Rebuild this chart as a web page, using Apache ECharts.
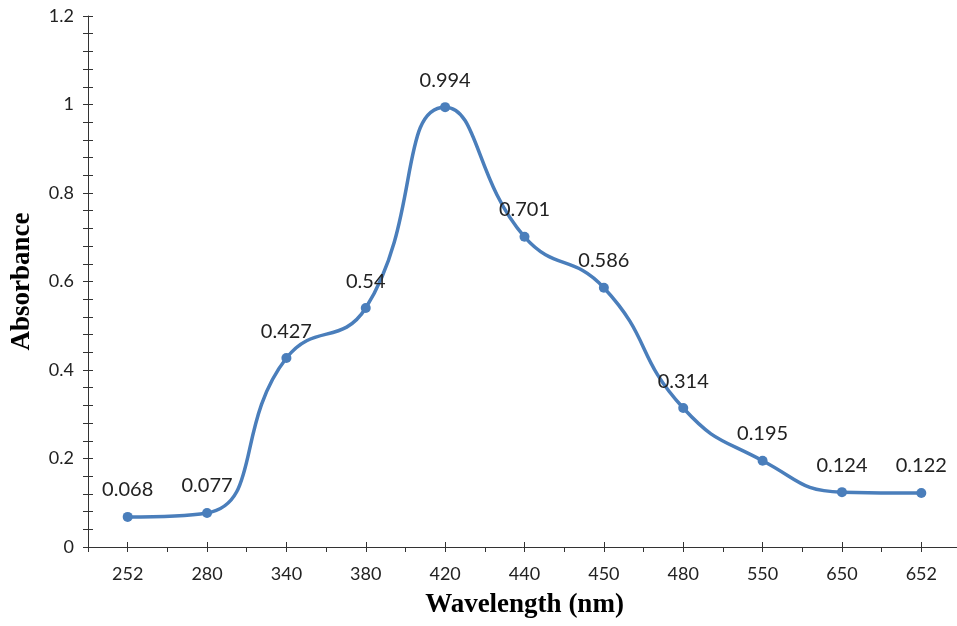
<!DOCTYPE html>
<html lang="en">
  <head>
    <meta charset="UTF-8" />
    <title>Absorbance</title>
    <script src="https://cdn.jsdelivr.net/npm/echarts@6/dist/echarts.min.js"></script>
    <style>
      html,
      body {
        margin: 0;
        padding: 0;
        background: #fff;
      }
      #chart {
        width: 957px;
        height: 626px;
      }
    </style>
  </head>
  <body>
    <div id="chart"></div>

    <script>
      // wavelength categories (nm) and absorbance readings
      var wavelengths = ["252", "280", "340", "380", "420", "440", "450", "480", "550", "650", "652"];
      var absorbance = [0.068, 0.077, 0.427, 0.54, 0.994, 0.701, 0.586, 0.314, 0.195, 0.124, 0.122];

      var textFont = "Lato, 'Liberation Sans', sans-serif";
      var titleFont = "'Liberation Serif', 'Times New Roman', serif";
      var axisColor = "#333";
      var lineColor = "#4a7ebb";

      var chart = echarts.init(document.getElementById("chart"));

      var option = {
        backgroundColor: "#fff",
        animation: false,
        grid: { left: 88, right: -4, top: 16, bottom: 79, containLabel: false, outerBoundsMode: "none" },
        xAxis: [
          {
            type: "category",
            data: wavelengths,
            boundaryGap: true,
            name: "Wavelength (nm)",
            nameLocation: "middle",
            nameGap: 45,
            nameTextStyle: { fontFamily: titleFont, fontWeight: "bold", fontSize: 27, color: "#000" },
            axisLine: { lineStyle: { color: axisColor, width: 1 } },
            axisTick: { show: true, length: 5, lineStyle: { color: axisColor } },
            axisLabel: { margin: 18, fontFamily: textFont, fontSize: 18, color: "#222" },
            splitLine: { show: false },
          },
          {
            // tick marks only: the ones at each category cross the axis line
            type: "category",
            data: wavelengths,
            boundaryGap: true,
            position: "bottom",
            offset: -5,
            axisLine: { show: false },
            axisLabel: { show: false },
            axisTick: { show: true, alignWithLabel: true, length: 10, lineStyle: { color: axisColor } },
            splitLine: { show: false },
          },
        ],
        yAxis: [
          {
            type: "value",
            min: 0,
            max: 1.2,
            interval: 0.2,
            name: "Absorbance",
            nameLocation: "middle",
            nameGap: 52,
            nameTextStyle: { fontFamily: titleFont, fontWeight: "bold", fontSize: 27, color: "#000" },
            axisLine: { show: true, lineStyle: { color: axisColor, width: 1 } },
            axisTick: { show: true, length: 5, lineStyle: { color: axisColor } },
            minorTick: { show: true, splitNumber: 5, length: 5, lineStyle: { color: axisColor } },
            axisLabel: { margin: 14, fontFamily: textFont, fontSize: 18, color: "#222" },
            splitLine: { show: false },
          },
          {
            type: "value",
            position: "left",
            min: 0,
            max: 1.2,
            interval: 0.2,
            offset: -5,
            axisLine: { show: false },
            axisLabel: { show: false },
            axisTick: { show: true, length: 10, lineStyle: { color: axisColor } },
            minorTick: { show: true, splitNumber: 5, length: 10, lineStyle: { color: axisColor } },
            splitLine: { show: false },
          },
        ],
        series: [
          {
            type: "line",
            data: absorbance,
            smooth: 0.5,
            symbol: "circle",
            symbolSize: 10,
            lineStyle: { color: lineColor, width: 3.5 },
            itemStyle: { color: lineColor },
            label: {
              show: true,
              position: "top",
              distance: 12,
              fontFamily: textFont,
              fontSize: 20,
              color: "#222",
            },
          },
        ],
      };

      chart.setOption(option);
    </script>
  </body>
</html>
